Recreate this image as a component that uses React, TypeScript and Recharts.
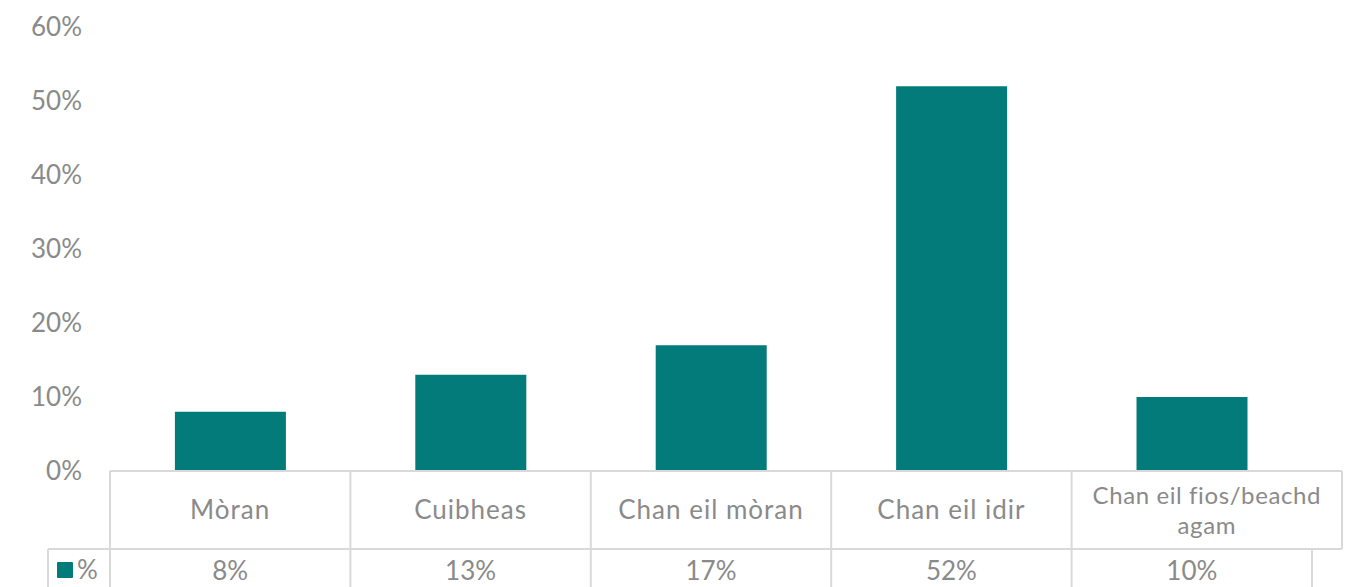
import { BarChart, Bar, XAxis, YAxis } from 'recharts';

const categories = ['Mòran', 'Cuibheas', 'Chan eil mòran', 'Chan eil idir', 'Chan eil fios/beachd agam'];
const percentValues = [0.08, 0.13, 0.17, 0.52, 0.10];
const seriesName = '%';
const yTicks = [0, 0.1, 0.2, 0.3, 0.4, 0.5, 0.6];

const data = categories.map((name, i) => ({ name, value: percentValues[i] }));

const W = 1358;
const H = 587;
const LEFT = 110;
const RIGHT = 46;
const TOP = 27;
const AXIS_H = 116;
const HEADER_H = 78;
const BAND = (W - LEFT - RIGHT) / categories.length;

const TEAL = '#037B7B';
const GREY_TEXT = '#8a8a8a';
const BORDER = '#d9d9d9';
const FONT = 'Lato, "Open Sans", sans-serif';
const FS = 26;

const pct = (v: number) => `${Math.round(v * 100)}%`;

// wrap label into lines of at most ~20 chars
const wrap = (s: string) => {
  const words = s.split(' ');
  const lines: string[] = [];
  let cur = '';
  words.forEach((w) => {
    if (cur && (cur + ' ' + w).length > 20) {
      lines.push(cur);
      cur = w;
    } else {
      cur = cur ? cur + ' ' + w : w;
    }
  });
  if (cur) lines.push(cur);
  return lines;
};

const TableTick = (props: any) => {
  const { x, y, payload } = props;
  const idx = payload.index;
  const left = x - BAND / 2;
  const last = idx === categories.length - 1;
  const headerRight = x + BAND / 2 + (last ? 30 : 0);
  const lines = wrap(payload.value);
  const multi = lines.length > 1;
  const rowBottom = y + HEADER_H;
  return (
    <g>
      {/* header cell */}
      <line x1={left} y1={y} x2={headerRight} y2={y} stroke={BORDER} strokeWidth={2} />
      <line x1={left} y1={y} x2={left} y2={rowBottom} stroke={BORDER} strokeWidth={2} />
      {last && <line x1={headerRight} y1={y} x2={headerRight} y2={rowBottom} stroke={BORDER} strokeWidth={2} />}
      <line x1={left} y1={rowBottom} x2={headerRight} y2={rowBottom} stroke={BORDER} strokeWidth={2} />
      {lines.map((l, i) => (
        <text
          key={i}
          x={x + (last ? 15 : 0)}
          y={y + HEADER_H / 2 + 9 + (i - (lines.length - 1) / 2) * 30}
          textAnchor="middle"
          fill={GREY_TEXT}
          fontSize={multi ? 24 : FS}
          letterSpacing={multi ? 0.6 : 1}
          fontFamily={FONT}
        >
          {l}
        </text>
      ))}
      {/* value cell */}
      <line x1={left} y1={rowBottom} x2={left} y2={H} stroke={BORDER} strokeWidth={2} />
      {last && <line x1={x + BAND / 2} y1={rowBottom} x2={x + BAND / 2} y2={H} stroke={BORDER} strokeWidth={2} />}
      <text x={x} y={rowBottom + 31} textAnchor="middle" fill={GREY_TEXT} fontSize={FS} fontFamily={FONT}>
        {pct(percentValues[idx])}
      </text>
      {idx === 0 && (
        <g>
          <line x1={48} y1={rowBottom} x2={left} y2={rowBottom} stroke={BORDER} strokeWidth={2} />
          <line x1={48} y1={rowBottom} x2={48} y2={H} stroke={BORDER} strokeWidth={2} />
          <rect x={57} y={rowBottom + 13} width={16} height={16} fill={TEAL} rx={1} />
          <text x={77} y={rowBottom + 30} fill={GREY_TEXT} fontSize={FS} fontFamily={FONT}>
            {seriesName}
          </text>
        </g>
      )}
    </g>
  );
};

const App = () => {
  return (
    <div style={{ position: 'absolute', left: 0, top: 0, background: '#fff' }}>
      <BarChart width={W} height={H} data={data} margin={{ top: TOP, right: RIGHT, bottom: 0, left: 0 }} barCategoryGap="27%">
        <XAxis
          dataKey="name"
          height={AXIS_H}
          axisLine={false}
          tickLine={false}
          tickSize={0}
          tickMargin={0}
          interval={0}
          tick={<TableTick />}
        />
        <YAxis
          width={LEFT}
          domain={[0, 0.6]}
          ticks={yTicks}
          axisLine={false}
          tickLine={false}
          tickMargin={22}
          tickFormatter={pct}
          tick={{ fill: GREY_TEXT, fontSize: FS, fontFamily: FONT }}
        />
        <Bar dataKey="value" fill={TEAL} isAnimationActive={false} />
      </BarChart>
    </div>
  );
};

export default App;
